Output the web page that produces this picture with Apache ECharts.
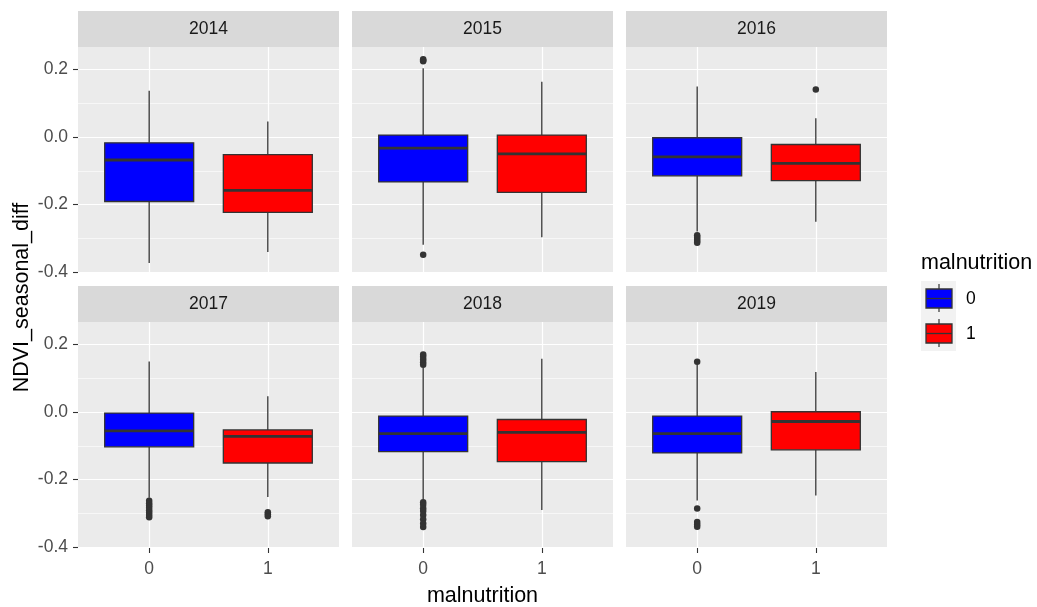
<!DOCTYPE html>
<html>
<head>
<meta charset="utf-8">
<script src="https://cdn.jsdelivr.net/npm/echarts@6/dist/echarts.min.js"></script>
<style>
  html, body { margin: 0; padding: 0; background: #ffffff; }
  #chart { width: 1037px; height: 607px; }
</style>
</head>
<body>
<div id="chart"></div>
<script>
// Facet panels (one per year) and the two malnutrition groups
const years = ['2014', '2015', '2016', '2017', '2018', '2019'];
const groups = ['0', '1'];
const groupColors = ['#0000ff', '#ff0000'];

// Box statistics per year: [lower whisker, Q1, median, Q3, upper whisker]
const statsGroup0 = [
  [-0.373, -0.191, -0.068, -0.017, 0.137],
  [-0.319, -0.133, -0.033, 0.006, 0.204],
  [-0.280, -0.115, -0.059, -0.002, 0.150],
  [-0.254, -0.103, -0.056, -0.003, 0.150],
  [-0.259, -0.117, -0.064, -0.012, 0.131],
  [-0.262, -0.121, -0.064, -0.012, 0.141]
];
const statsGroup1 = [
  [-0.341, -0.223, -0.158, -0.052, 0.046],
  [-0.297, -0.164, -0.050, 0.006, 0.164],
  [-0.251, -0.129, -0.078, -0.022, 0.056],
  [-0.252, -0.151, -0.072, -0.053, 0.047],
  [-0.290, -0.147, -0.060, -0.022, 0.158],
  [-0.247, -0.112, -0.028, 0.001, 0.119]
];

// Outlying observations per year
const outliersGroup0 = [
  [],
  [0.225, 0.228, 0.231, -0.349],
  [-0.291, -0.296, -0.302, -0.308, -0.313],
  [-0.263, -0.270, -0.277, -0.284, -0.291, -0.298, -0.305, -0.312],
  [0.140, 0.148, 0.156, 0.164, 0.171, -0.267, -0.275, -0.285, -0.293, -0.305, -0.318, -0.330, -0.341],
  [0.149, -0.286, -0.326, -0.333, -0.340]
];
const outliersGroup1 = [
  [],
  [],
  [0.141],
  [-0.297, -0.303, -0.309],
  [],
  []
];

// Axis ticks
const yMajorTicks = [-0.4, -0.2, 0.0, 0.2];
const yMinorTicks = [-0.3, -0.1, 0.1];
const xTicks = [0, 1];
const yTitle = 'NDVI_seasonal_diff';
const xTitle = 'malnutrition';
const legendTitle = 'malnutrition';

// Layout of the 2 x 3 facet grid
const FONT = '"Liberation Sans", Arial, sans-serif';
const panelLefts = [78, 352, 626];
const panelTops = [47, 322];
const panelW = 261;
const panelH = 226;
const stripH = 36;
const yMin = -0.403, yMax = 0.267;

const grids = [], xAxes = [], yAxes = [], series = [], graphics = [];

years.forEach(function (year, i) {
  const col = i % 3, row = Math.floor(i / 3);
  const left = panelLefts[col], top = panelTops[row];
  const isLeft = col === 0, isBottom = row === 1;

  grids.push({
    left: left, top: top, width: panelW, height: panelH,
    show: true, backgroundColor: '#ebebeb', borderWidth: 0, containLabel: false
  });

  xAxes.push({
    type: 'value', gridIndex: i, min: -0.6, max: 1.6, position: 'bottom',
    axisLine: { show: false, onZero: false },
    axisTick: { show: isBottom, customValues: xTicks, length: 5, lineStyle: { color: '#333333', width: 1.1 } },
    axisLabel: {
      show: isBottom, customValues: xTicks, margin: 12,
      formatter: function (v) { return groups[Math.round(v)]; },
      color: '#4d4d4d', fontSize: 17.5, fontFamily: FONT
    },
    splitLine: { show: true, lineStyle: { color: '#ffffff', width: 1.2 } }
  });

  // major y axis: labels, ticks and major grid lines
  yAxes.push({
    type: 'value', gridIndex: i, min: yMin, max: yMax, position: 'left',
    axisLine: { show: false, onZero: false },
    axisTick: { show: isLeft, customValues: yMajorTicks, length: 5, lineStyle: { color: '#333333', width: 1.1 } },
    axisLabel: {
      show: isLeft, customValues: yMajorTicks, margin: 10,
      formatter: function (v) { return v.toFixed(1); },
      color: '#4d4d4d', fontSize: 17.5, fontFamily: FONT
    },
    splitLine: { show: true, lineStyle: { color: '#ffffff', width: 1.2 } }
  });
  // minor y axis: thinner grid lines only
  yAxes.push({
    type: 'value', gridIndex: i, min: yMin, max: yMax, position: 'left',
    axisLine: { show: false, onZero: false },
    axisTick: { show: false, customValues: yMinorTicks },
    axisLabel: { show: false, customValues: yMinorTicks },
    splitLine: { show: true, lineStyle: { color: '#ffffff', width: 0.6 } }
  });

  const boxData = [
    [0].concat(statsGroup0[i], [0]),
    [1].concat(statsGroup1[i], [1])
  ];

  series.push({
    type: 'custom',
    xAxisIndex: i, yAxisIndex: 2 * i,
    data: boxData,
    encode: { x: 0, y: [1, 2, 3, 4, 5] },
    silent: true,
    z: 3,
    renderItem: function (params, api) {
      const x = api.value(0);
      const pLow = api.coord([x, api.value(1)]);
      const pQ1 = api.coord([x, api.value(2)]);
      const pMed = api.coord([x, api.value(3)]);
      const pQ3 = api.coord([x, api.value(4)]);
      const pHigh = api.coord([x, api.value(5)]);
      const w = api.size([0.75, 0])[0];
      const cx = pQ1[0];
      const color = groupColors[api.value(6)];
      const lineStyle = { stroke: '#333333', lineWidth: 1.3 };
      return {
        type: 'group',
        children: [
          { type: 'line', shape: { x1: cx, y1: pQ3[1], x2: cx, y2: pHigh[1] }, style: lineStyle },
          { type: 'line', shape: { x1: cx, y1: pQ1[1], x2: cx, y2: pLow[1] }, style: lineStyle },
          { type: 'rect', shape: { x: cx - w / 2, y: pQ3[1], width: w, height: pQ1[1] - pQ3[1] },
            style: { fill: color, stroke: '#333333', lineWidth: 1.3 } },
          { type: 'line', shape: { x1: cx - w / 2, y1: pMed[1], x2: cx + w / 2, y2: pMed[1] },
            style: { stroke: '#333333', lineWidth: 2.8 } }
        ]
      };
    }
  });

  const pts = outliersGroup0[i].map(function (v) { return [0, v]; })
    .concat(outliersGroup1[i].map(function (v) { return [1, v]; }));
  series.push({
    type: 'scatter',
    xAxisIndex: i, yAxisIndex: 2 * i,
    data: pts,
    symbol: 'circle', symbolSize: 6.5,
    itemStyle: { color: '#333333', opacity: 1 },
    silent: true,
    z: 4
  });

  // facet strip with the year
  graphics.push({
    type: 'rect', left: left, top: top - stripH,
    shape: { width: panelW, height: stripH },
    style: { fill: '#d9d9d9' }, silent: true
  });
  graphics.push({
    type: 'text', x: left + panelW / 2, y: top - stripH / 2,
    style: { text: year, fill: '#1a1a1a', font: '17.5px ' + FONT, textAlign: 'center', textVerticalAlign: 'middle' },
    silent: true
  });
});

// axis titles
graphics.push({
  type: 'text', x: 22, y: 297.5, rotation: Math.PI / 2,
  style: { text: yTitle, fill: '#000000', font: '21.5px ' + FONT, textAlign: 'center', textVerticalAlign: 'middle' },
  silent: true
});
graphics.push({
  type: 'text', x: 482.5, y: 596.5,
  style: { text: xTitle, fill: '#000000', font: '21.5px ' + FONT, textAlign: 'center', textVerticalAlign: 'middle' },
  silent: true
});

// legend: title, keys with small box glyphs, labels
graphics.push({
  type: 'text', x: 921, y: 263,
  style: { text: legendTitle, fill: '#000000', font: '21.5px ' + FONT, textAlign: 'left', textVerticalAlign: 'middle' },
  silent: true
});
groups.forEach(function (g, k) {
  const keyTop = 281 + k * 35;
  const cx = 939;
  graphics.push({ type: 'rect', left: 921, top: keyTop, shape: { width: 35, height: 35 }, style: { fill: '#f2f2f2' }, silent: true });
  graphics.push({ type: 'line', shape: { x1: cx, y1: keyTop + 3, x2: cx, y2: keyTop + 31 }, style: { stroke: '#333333', lineWidth: 1.2 }, silent: true });
  graphics.push({ type: 'rect', shape: { x: 926, y: keyTop + 8, width: 26, height: 19 }, style: { fill: groupColors[k], stroke: '#333333', lineWidth: 1.3 }, silent: true });
  graphics.push({ type: 'line', shape: { x1: 926, y1: keyTop + 17.5, x2: 952, y2: keyTop + 17.5 }, style: { stroke: '#333333', lineWidth: 1.3 }, silent: true });
  graphics.push({
    type: 'text', x: 966, y: keyTop + 18,
    style: { text: g, fill: '#000000', font: '17.5px ' + FONT, textAlign: 'left', textVerticalAlign: 'middle' },
    silent: true
  });
});

const chart = echarts.init(document.getElementById('chart'), null, { renderer: 'canvas' });
chart.setOption({
  animation: false,
  backgroundColor: '#ffffff',
  grid: grids,
  xAxis: xAxes,
  yAxis: yAxes,
  series: series,
  graphic: graphics
});
</script>
</body>
</html>
